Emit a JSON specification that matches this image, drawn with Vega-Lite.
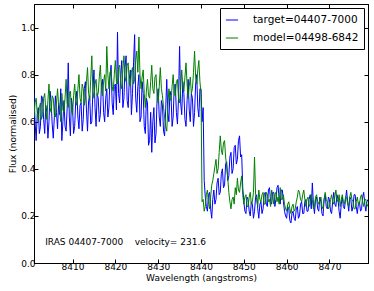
{
"$schema":"https://vega.github.io/schema/vega-lite/v6.json",
"width":334,"height":259,
"autosize":{"type":"none"},
"padding":{"left":34,"top":4,"right":6,"bottom":28},
"config":{"view":{"stroke":"black","strokeWidth":1},"font":"DejaVu Sans",
"axis":{"grid":false,"domainColor":"black","tickColor":"black","labelColor":"black","titleColor":"black","labelFontSize":9,"titleFontSize":9,"titleFontWeight":"normal","tickSize":-4,"labelPadding":3}},
"data":{"values":[
{"w":8401,"t":0.72,"m":0.62},{"w":8401.25,"t":0.60,"m":0.68},{"w":8401.5,"t":0.52,"m":0.70},{"w":8401.75,"t":0.63,"m":0.64},
{"w":8402,"t":0.66,"m":0.60},{"w":8402.25,"t":0.55,"m":0.66},{"w":8402.5,"t":0.58,"m":0.68},{"w":8402.75,"t":0.71,"m":0.61},
{"w":8403,"t":0.70,"m":0.63},{"w":8403.25,"t":0.61,"m":0.70},{"w":8403.5,"t":0.55,"m":0.72},{"w":8403.75,"t":0.67,"m":0.65},
{"w":8404,"t":0.64,"m":0.61},{"w":8404.25,"t":0.53,"m":0.69},{"w":8404.5,"t":0.60,"m":0.76},{"w":8404.75,"t":0.73,"m":0.66},
{"w":8405,"t":0.68,"m":0.64},{"w":8405.25,"t":0.59,"m":0.71},{"w":8405.5,"t":0.53,"m":0.70},{"w":8405.75,"t":0.62,"m":0.63},
{"w":8406,"t":0.71,"m":0.62},{"w":8406.25,"t":0.64,"m":0.68},{"w":8406.5,"t":0.57,"m":0.74},{"w":8406.75,"t":0.68,"m":0.67},
{"w":8407,"t":0.63,"m":0.66},{"w":8407.25,"t":0.74,"m":0.60},{"w":8407.5,"t":0.52,"m":0.72},{"w":8407.75,"t":0.60,"m":0.65},
{"w":8408,"t":0.69,"m":0.64},{"w":8408.25,"t":0.58,"m":0.70},{"w":8408.5,"t":0.56,"m":0.78},{"w":8408.75,"t":0.66,"m":0.68},
{"w":8409,"t":0.85,"m":0.66},{"w":8409.25,"t":0.62,"m":0.72},{"w":8409.5,"t":0.54,"m":0.73},{"w":8409.75,"t":0.70,"m":0.65},
{"w":8410,"t":0.66,"m":0.63},{"w":8410.25,"t":0.55,"m":0.71},{"w":8410.5,"t":0.58,"m":0.76},{"w":8410.75,"t":0.69,"m":0.69},
{"w":8411,"t":0.73,"m":0.67},{"w":8411.25,"t":0.62,"m":0.74},{"w":8411.5,"t":0.57,"m":0.80},{"w":8411.75,"t":0.67,"m":0.70},
{"w":8412,"t":0.68,"m":0.68},{"w":8412.25,"t":0.56,"m":0.76},{"w":8412.5,"t":0.61,"m":0.74},{"w":8412.75,"t":0.74,"m":0.67},
{"w":8413,"t":0.77,"m":0.70},{"w":8413.25,"t":0.65,"m":0.77},{"w":8413.5,"t":0.56,"m":0.83},{"w":8413.75,"t":0.69,"m":0.72},
{"w":8414,"t":0.71,"m":0.69},{"w":8414.25,"t":0.59,"m":0.78},{"w":8414.5,"t":0.60,"m":0.88},{"w":8414.75,"t":0.73,"m":0.73},
{"w":8415,"t":0.82,"m":0.70},{"w":8415.25,"t":0.66,"m":0.76},{"w":8415.5,"t":0.58,"m":0.78},{"w":8415.75,"t":0.72,"m":0.71},
{"w":8416,"t":0.70,"m":0.72},{"w":8416.25,"t":0.60,"m":0.79},{"w":8416.5,"t":0.63,"m":0.84},{"w":8416.75,"t":0.76,"m":0.74},
{"w":8417,"t":0.78,"m":0.71},{"w":8417.25,"t":0.64,"m":0.77},{"w":8417.5,"t":0.60,"m":0.80},{"w":8417.75,"t":0.70,"m":0.73},
{"w":8418,"t":0.74,"m":0.92},{"w":8418.25,"t":0.62,"m":0.80},{"w":8418.5,"t":0.66,"m":0.74},{"w":8418.75,"t":0.79,"m":0.81},
{"w":8419,"t":0.84,"m":0.82},{"w":8419.25,"t":0.68,"m":0.75},{"w":8419.5,"t":0.63,"m":0.73},{"w":8419.75,"t":0.75,"m":0.80},
{"w":8420,"t":0.76,"m":0.86},{"w":8420.25,"t":0.65,"m":0.77},{"w":8420.5,"t":0.98,"m":0.76},{"w":8420.75,"t":0.72,"m":0.83},
{"w":8421,"t":0.68,"m":0.84},{"w":8421.25,"t":0.80,"m":0.76},{"w":8421.5,"t":0.86,"m":0.74},{"w":8421.75,"t":0.66,"m":0.82},
{"w":8422,"t":0.70,"m":0.88},{"w":8422.25,"t":0.83,"m":0.79},{"w":8422.5,"t":0.88,"m":0.77},{"w":8422.75,"t":0.69,"m":0.84},
{"w":8423,"t":0.66,"m":0.85},{"w":8423.25,"t":0.78,"m":0.76},{"w":8423.5,"t":0.82,"m":0.75},{"w":8423.75,"t":0.63,"m":0.81},
{"w":8424,"t":0.72,"m":0.83},{"w":8424.25,"t":0.85,"m":0.76},{"w":8424.5,"t":0.97,"m":0.78},{"w":8424.75,"t":0.70,"m":0.86},
{"w":8425,"t":0.64,"m":0.90},{"w":8425.25,"t":0.75,"m":0.81},{"w":8425.5,"t":0.80,"m":0.96},{"w":8425.75,"t":0.60,"m":0.80},
{"w":8426,"t":0.62,"m":0.74},{"w":8426.25,"t":0.77,"m":0.79},{"w":8426.5,"t":0.72,"m":0.82},{"w":8426.75,"t":0.58,"m":0.72},
{"w":8427,"t":0.55,"m":0.66},{"w":8427.25,"t":0.70,"m":0.73},{"w":8427.5,"t":0.68,"m":0.78},{"w":8427.75,"t":0.50,"m":0.71},
{"w":8428,"t":0.52,"m":0.70},{"w":8428.25,"t":0.64,"m":0.77},{"w":8428.5,"t":0.47,"m":0.84},{"w":8428.75,"t":0.60,"m":0.74},
{"w":8429,"t":0.66,"m":0.72},{"w":8429.25,"t":0.51,"m":0.79},{"w":8429.5,"t":0.55,"m":0.80},{"w":8429.75,"t":0.70,"m":0.71},
{"w":8430,"t":0.74,"m":0.68},{"w":8430.25,"t":0.62,"m":0.75},{"w":8430.5,"t":0.58,"m":0.83},{"w":8430.75,"t":0.69,"m":0.74},
{"w":8431,"t":0.67,"m":0.71},{"w":8431.25,"t":0.56,"m":0.66},{"w":8431.5,"t":0.54,"m":0.62},{"w":8431.75,"t":0.65,"m":0.58},
{"w":8432,"t":0.78,"m":0.56},{"w":8432.25,"t":0.64,"m":0.66},{"w":8432.5,"t":0.60,"m":0.74},{"w":8432.75,"t":0.73,"m":0.70},
{"w":8433,"t":0.71,"m":0.69},{"w":8433.25,"t":0.58,"m":0.75},{"w":8433.5,"t":0.62,"m":0.80},{"w":8433.75,"t":0.75,"m":0.72},
{"w":8434,"t":0.76,"m":0.71},{"w":8434.25,"t":0.64,"m":0.77},{"w":8434.5,"t":0.59,"m":0.78},{"w":8434.75,"t":0.70,"m":0.70},
{"w":8435,"t":0.92,"m":0.68},{"w":8435.25,"t":0.68,"m":0.74},{"w":8435.5,"t":0.63,"m":0.82},{"w":8435.75,"t":0.77,"m":0.75},
{"w":8436,"t":0.72,"m":0.73},{"w":8436.25,"t":0.61,"m":0.79},{"w":8436.5,"t":0.58,"m":0.85},{"w":8436.75,"t":0.69,"m":0.76},
{"w":8437,"t":0.78,"m":0.70},{"w":8437.25,"t":0.65,"m":0.75},{"w":8437.5,"t":0.60,"m":0.79},{"w":8437.75,"t":0.72,"m":0.72},
{"w":8438,"t":0.70,"m":0.74},{"w":8438.25,"t":0.58,"m":0.81},{"w":8438.5,"t":0.64,"m":0.90},{"w":8438.75,"t":0.76,"m":0.79},
{"w":8439,"t":0.80,"m":0.76},{"w":8439.25,"t":0.66,"m":0.82},{"w":8439.5,"t":0.62,"m":0.86},{"w":8439.75,"t":0.74,"m":0.77},
{"w":8440,"t":0.74,"m":0.72},{"w":8440.25,"t":0.60,"m":0.26},{"w":8440.5,"t":0.66,"m":0.27},{"w":8440.75,"t":0.35,"m":0.22},
{"w":8441,"t":0.28,"m":0.24},{"w":8441.25,"t":0.24,"m":0.29},{"w":8441.5,"t":0.22,"m":0.31},{"w":8441.75,"t":0.29,"m":0.26},
{"w":8442,"t":0.30,"m":0.23},{"w":8442.25,"t":0.23,"m":0.28},{"w":8442.5,"t":0.19,"m":0.33},{"w":8442.75,"t":0.27,"m":0.35},
{"w":8443,"t":0.31,"m":0.38},{"w":8443.25,"t":0.25,"m":0.41},{"w":8443.5,"t":0.27,"m":0.44},{"w":8443.75,"t":0.34,"m":0.38},
{"w":8444,"t":0.36,"m":0.40},{"w":8444.25,"t":0.29,"m":0.47},{"w":8444.5,"t":0.30,"m":0.54},{"w":8444.75,"t":0.38,"m":0.48},
{"w":8445,"t":0.40,"m":0.46},{"w":8445.25,"t":0.32,"m":0.51},{"w":8445.5,"t":0.33,"m":0.52},{"w":8445.75,"t":0.42,"m":0.45},
{"w":8446,"t":0.43,"m":0.41},{"w":8446.25,"t":0.35,"m":0.36},{"w":8446.5,"t":0.37,"m":0.30},{"w":8446.75,"t":0.45,"m":0.26},
{"w":8447,"t":0.47,"m":0.23},{"w":8447.25,"t":0.38,"m":0.27},{"w":8447.5,"t":0.40,"m":0.28},{"w":8447.75,"t":0.49,"m":0.25},
{"w":8448,"t":0.50,"m":0.32},{"w":8448.25,"t":0.42,"m":0.29},{"w":8448.5,"t":0.44,"m":0.36},{"w":8448.75,"t":0.52,"m":0.31},
{"w":8449,"t":0.54,"m":0.30},{"w":8449.25,"t":0.45,"m":0.34},{"w":8449.5,"t":0.46,"m":0.37},{"w":8449.75,"t":0.32,"m":0.29},
{"w":8450,"t":0.26,"m":0.25},{"w":8450.25,"t":0.22,"m":0.28},{"w":8450.5,"t":0.21,"m":0.29},{"w":8450.75,"t":0.28,"m":0.24},
{"w":8451,"t":0.27,"m":0.24},{"w":8451.25,"t":0.22,"m":0.28},{"w":8451.5,"t":0.20,"m":0.30},{"w":8451.75,"t":0.26,"m":0.25},
{"w":8452,"t":0.25,"m":0.26},{"w":8452.25,"t":0.19,"m":0.30},{"w":8452.5,"t":0.22,"m":0.45},{"w":8452.75,"t":0.28,"m":0.29},
{"w":8453,"t":0.29,"m":0.27},{"w":8453.25,"t":0.23,"m":0.24},{"w":8453.5,"t":0.19,"m":0.31},{"w":8453.75,"t":0.25,"m":0.27},
{"w":8454,"t":0.26,"m":0.26},{"w":8454.25,"t":0.21,"m":0.29},{"w":8454.5,"t":0.23,"m":0.30},{"w":8454.75,"t":0.29,"m":0.25},
{"w":8455,"t":0.30,"m":0.25},{"w":8455.25,"t":0.25,"m":0.30},{"w":8455.5,"t":0.24,"m":0.29},{"w":8455.75,"t":0.31,"m":0.26},
{"w":8456,"t":0.32,"m":0.27},{"w":8456.25,"t":0.26,"m":0.24},{"w":8456.5,"t":0.25,"m":0.31},{"w":8456.75,"t":0.30,"m":0.28},
{"w":8457,"t":0.30,"m":0.25},{"w":8457.25,"t":0.24,"m":0.29},{"w":8457.5,"t":0.27,"m":0.30},{"w":8457.75,"t":0.32,"m":0.26},
{"w":8458,"t":0.33,"m":0.28},{"w":8458.25,"t":0.27,"m":0.25},{"w":8458.5,"t":0.25,"m":0.32},{"w":8458.75,"t":0.31,"m":0.27},
{"w":8459,"t":0.31,"m":0.27},{"w":8459.25,"t":0.26,"m":0.29},{"w":8459.5,"t":0.22,"m":0.25},{"w":8459.75,"t":0.20,"m":0.23},
{"w":8460,"t":0.19,"m":0.22},{"w":8460.25,"t":0.24,"m":0.25},{"w":8460.5,"t":0.23,"m":0.26},{"w":8460.75,"t":0.18,"m":0.23},
{"w":8461,"t":0.17,"m":0.21},{"w":8461.25,"t":0.21,"m":0.24},{"w":8461.5,"t":0.22,"m":0.25},{"w":8461.75,"t":0.19,"m":0.22},
{"w":8462,"t":0.18,"m":0.23},{"w":8462.25,"t":0.23,"m":0.26},{"w":8462.5,"t":0.24,"m":0.28},{"w":8462.75,"t":0.19,"m":0.31},
{"w":8463,"t":0.20,"m":0.30},{"w":8463.25,"t":0.25,"m":0.27},{"w":8463.5,"t":0.26,"m":0.26},{"w":8463.75,"t":0.21,"m":0.29},
{"w":8464,"t":0.21,"m":0.31},{"w":8464.25,"t":0.26,"m":0.27},{"w":8464.5,"t":0.27,"m":0.24},{"w":8464.75,"t":0.22,"m":0.27},
{"w":8465,"t":0.22,"m":0.28},{"w":8465.25,"t":0.27,"m":0.24},{"w":8465.5,"t":0.29,"m":0.25},{"w":8465.75,"t":0.23,"m":0.29},
{"w":8466,"t":0.34,"m":0.27},{"w":8466.25,"t":0.25,"m":0.23},{"w":8466.5,"t":0.21,"m":0.24},{"w":8466.75,"t":0.27,"m":0.28},
{"w":8467,"t":0.28,"m":0.29},{"w":8467.25,"t":0.23,"m":0.26},{"w":8467.5,"t":0.22,"m":0.25},{"w":8467.75,"t":0.28,"m":0.27},
{"w":8468,"t":0.26,"m":0.28},{"w":8468.25,"t":0.21,"m":0.24},{"w":8468.5,"t":0.20,"m":0.23},{"w":8468.75,"t":0.27,"m":0.27},
{"w":8469,"t":0.29,"m":0.30},{"w":8469.25,"t":0.24,"m":0.27},{"w":8469.5,"t":0.23,"m":0.26},{"w":8469.75,"t":0.28,"m":0.23},
{"w":8470,"t":0.27,"m":0.24},{"w":8470.25,"t":0.22,"m":0.27},{"w":8470.5,"t":0.21,"m":0.29},{"w":8470.75,"t":0.26,"m":0.26},
{"w":8471,"t":0.30,"m":0.25},{"w":8471.25,"t":0.25,"m":0.28},{"w":8471.5,"t":0.24,"m":0.31},{"w":8471.75,"t":0.29,"m":0.27},
{"w":8472,"t":0.27,"m":0.26},{"w":8472.25,"t":0.22,"m":0.29},{"w":8472.5,"t":0.19,"m":0.24},{"w":8472.75,"t":0.25,"m":0.27},
{"w":8473,"t":0.28,"m":0.29},{"w":8473.25,"t":0.24,"m":0.26},{"w":8473.5,"t":0.23,"m":0.25},{"w":8473.75,"t":0.27,"m":0.28},
{"w":8474,"t":0.31,"m":0.28},{"w":8474.25,"t":0.26,"m":0.25},{"w":8474.5,"t":0.22,"m":0.24},{"w":8474.75,"t":0.28,"m":0.28},
{"w":8475,"t":0.27,"m":0.30},{"w":8475.25,"t":0.22,"m":0.27},{"w":8475.5,"t":0.24,"m":0.26},{"w":8475.75,"t":0.29,"m":0.23},
{"w":8476,"t":0.29,"m":0.23},{"w":8476.25,"t":0.24,"m":0.26},{"w":8476.5,"t":0.21,"m":0.28},{"w":8476.75,"t":0.25,"m":0.25},
{"w":8477,"t":0.26,"m":0.25},{"w":8477.25,"t":0.22,"m":0.28},{"w":8477.5,"t":0.23,"m":0.29},{"w":8477.75,"t":0.28,"m":0.26},
{"w":8478,"t":0.30,"m":0.24},{"w":8478.25,"t":0.25,"m":0.27},{"w":8478.5,"t":0.22,"m":0.27},{"w":8478.75,"t":0.26,"m":0.24},
{"w":8479,"t":0.27,"m":0.25}
]},
"layer":[
{"mark":{"type":"line","strokeWidth":1,"clip":true},
 "encoding":{
  "x":{"field":"w","type":"quantitative","scale":{"domain":[8401,8479],"nice":false,"zero":false},"axis":{"orient":"bottom","title":"Wavelength (angstroms)","values":[8410,8420,8430,8440,8450,8460,8470],"format":"d","titlePadding":2}},
  "y":{"field":"t","type":"quantitative","scale":{"domain":[0,1.1],"nice":false},"axis":{"orient":"left","title":"Flux (normalised)","values":[0,0.2,0.4,0.6,0.8,1.0],"format":".1f","titlePadding":3}},
  "color":{"datum":"target=04407-7000","type":"nominal","scale":{"domain":["target=04407-7000","model=04498-6842"],"range":["#0000ff","#008000"]},
   "legend":{"title":null,"orient":"top-right","offset":4,"symbolType":"stroke","symbolStrokeWidth":1,"symbolSize":150,"labelFontSize":10.5,"labelOffset":14,"strokeColor":"black","fillColor":"white","padding":5,"rowPadding":5,"labelColor":"black"}}}},
{"mark":{"type":"line","strokeWidth":1,"clip":true},
 "encoding":{
  "x":{"field":"w","type":"quantitative","axis":{"orient":"top","title":null,"labels":false,"values":[8410,8420,8430,8440,8450,8460,8470]}},
  "y":{"field":"m","type":"quantitative","axis":{"orient":"right","title":null,"labels":false,"values":[0,0.2,0.4,0.6,0.8,1.0]}},
  "color":{"datum":"model=04498-6842","type":"nominal"}}},
{"data":{"values":[{}]},"mark":{"type":"text","text":"IRAS 04407-7000","align":"left","baseline":"middle","fontSize":9,"color":"black"},
 "encoding":{"x":{"datum":8403.6,"type":"quantitative","axis":null},"y":{"datum":0.09,"type":"quantitative","axis":null}}},
{"data":{"values":[{}]},"mark":{"type":"text","text":"velocity= 231.6","align":"left","baseline":"middle","fontSize":9,"color":"black"},
 "encoding":{"x":{"datum":8424.5,"type":"quantitative","axis":null},"y":{"datum":0.09,"type":"quantitative","axis":null}}}
],
"resolve":{"axis":{"x":"independent","y":"independent"}}
}
